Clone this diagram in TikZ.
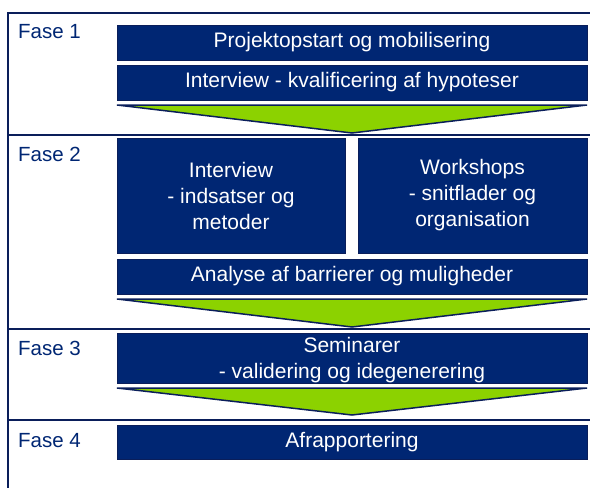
\documentclass[tikz,border=0pt]{standalone}
\usepackage{fontspec}
\setmainfont{Liberation Sans}
\definecolor{navy}{RGB}{0,38,115}
\definecolor{navyline}{RGB}{10,30,90}
\definecolor{limegreen}{RGB}{140,210,0}
\tikzset{
  box/.style={rectangle, draw=navyline, fill=navy, line width=1pt,
              text=white, inner sep=0pt, align=center,
              font=\fontsize{21}{26}\selectfont},
  fase/.style={anchor=base west, inner sep=0pt, text=navy,
               font=\fontsize{20.5}{26}\selectfont},
  sep/.style={draw=navyline, line width=2pt},
  funnel/.style={fill=limegreen, draw=navyline, line width=1.5pt, line join=miter}
}
\begin{document}
\begin{tikzpicture}[x=1pt, y=-1pt]

\useasboundingbox (0,0) rectangle (590,488);

% frame
\coordinate (top) at (8,13);
\coordinate (bottom) at (8,488);
\draw[sep] (bottom) -- (top) -- (590,13);
\draw[sep] (8,135) -- (590,135);
\draw[sep] (8,329) -- (590,329);
\draw[sep] (8,420) -- (590,420);

% labels
\node[fase] (f1) at (18,38) {Fase 1};
\node[fase] (f2) at (18,161) {Fase 2};
\node[fase] (f3) at (18,355) {Fase 3};
\node[fase] (f4) at (18,447) {Fase 4};

% fase 1
\node[box, minimum width=470, minimum height=35] (start) at (352,42.5) {Projektopstart og mobilisering};
\node[box, minimum width=470, minimum height=35] (hyp) at (352,82.5) {Interview - kvalificering af hypoteser};
\draw[funnel] (117,105) -- (587,105) -- (352,133) -- cycle;

% fase 2
\node[box, minimum width=228, minimum height=115] (indsats) at (231,195.5) {Interview\\- indsatser og\\metoder};
\node[box, minimum width=229, minimum height=115] (workshop) at (472.5,195.5) {Workshops\\- snitflader og\\organisation};
\node[box, minimum width=470, minimum height=35] (analyse) at (352,276.5) {Analyse af barrierer og muligheder};
\draw[funnel] (117,299) -- (587,299) -- (352,327) -- cycle;

% fase 3
\node[box, minimum width=470, minimum height=50] (seminar) at (352,358) {};
\node[box, draw=none, fill=none] (seminartxt) at (352,360) {Seminarer\\- validering og idegenerering};
\draw[funnel] (117,388) -- (587,388) -- (352,415) -- cycle;

% fase 4
\node[box, minimum width=470, minimum height=34] (rapport) at (352,442) {Afrapportering};

\end{tikzpicture}
\end{document}
